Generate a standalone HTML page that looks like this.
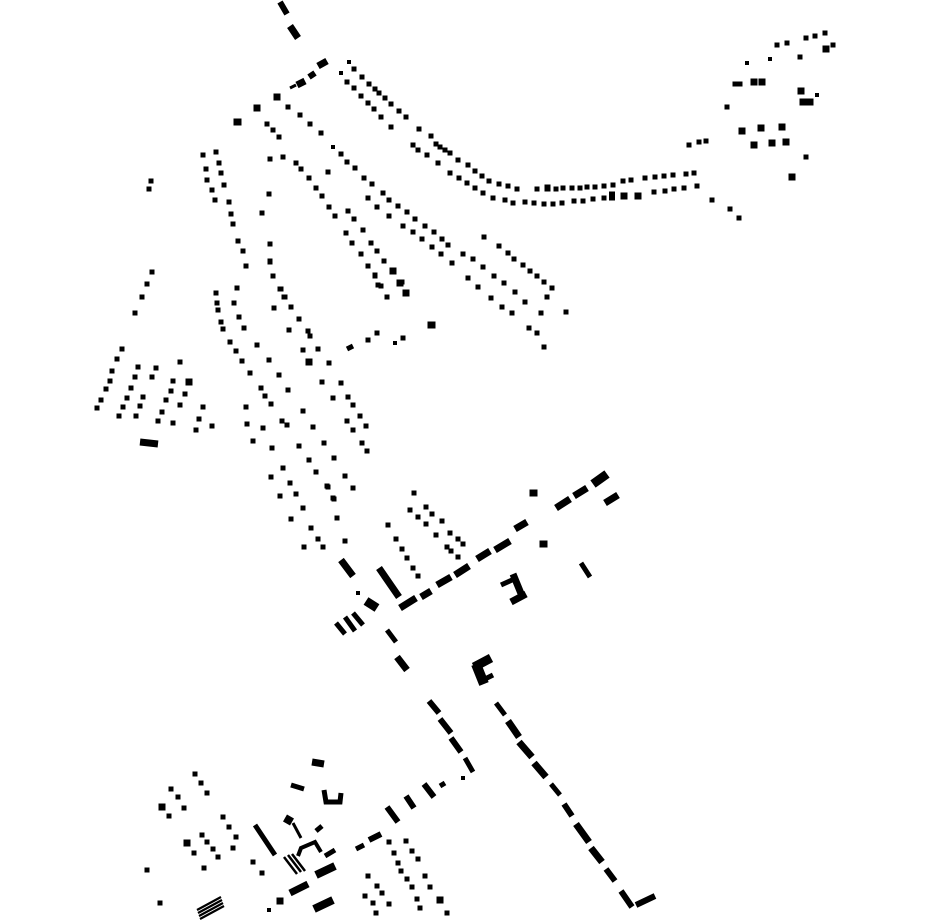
<!DOCTYPE html>
<html><head><meta charset="utf-8"><style>
html,body{margin:0;padding:0;background:#fff}
svg{display:block}
</style></head><body>
<svg width="930" height="924" viewBox="0 0 930 924" xmlns="http://www.w3.org/2000/svg">
<rect width="930" height="924" fill="#fff"/>
<g stroke="#000" fill="none" stroke-linecap="butt">
<!-- 5px squares -->
<path transform="translate(-2.5,0)" stroke-width="5" d="
M354 69h5M362 77h5M369 84h5M375 89h5M379 93h5M385 98h5M391 104h5M399 111h5M406 117h5
M347 82h5M354 88h5M361 96h5M368 103h5M374 109h5M381 117h5M391 127h5
M419 129h5M431 136h5M436 144h5M440 147h5M445 150h5M450 153h5M458 160h5M468 165h5M475 171h5M482 176h5M489 181h5M499 184h5M508 186h5M517 189h5M537 189h5M556 189h5M563 188h5M572 188h5M580 188h5M587 187h5M595 187h5M604 186h5M613 185h5M623 181h5M631 180h5M645 178h5M655 177h5M664 176h5M673 175h5M686 174h5M694 173h5
M413 145h5M418 150h5M427 155h5M438 163h5M450 173h5M459 178h5M467 183h5M475 188h5M483 193h5M493 198h5M505 200h5M513 203h5M525 202h5M534 203h5M544 204h5M553 204h5M562 203h5M574 201h5M583 201h5M593 199h5M604 198h5M654 192h5M665 191h5M674 189h5M684 188h5M697 186h5
M689 145h5M699 142h5M706 141h5
M777 45h5M787 43h5M806 38h5M815 36h5M825 33h5M833 45h5M800 57h5M735 84h5M740 84h5M727 107h5M712 200h5M730 209h5M739 218h5M806 157h5
M288 107h5M300 115h5M310 124h5M321 133h5M267 124h5M273 130h5M279 137h5
M283 157h5M270 159h5M296 163h5M301 169h5M309 178h5M316 188h5M322 196h5M329 207h5M335 216h5
M341 154h5M347 162h5M355 168h5M364 178h5M372 184h5M383 193h5M389 200h5M398 206h5M407 212h5M415 219h5M425 226h5M434 232h5M442 239h5M448 245h5M463 254h5M473 259h5
M368 198h5M377 207h5M389 216h5M403 226h5M413 232h5M422 239h5M432 247h5M441 254h5M452 263h5
M328 172h5M348 211h5M354 219h5M363 230h5M371 243h5M377 251h5M384 261h5
M346 233h5M352 243h5M361 254h5M368 266h5M375 276h5M381 286h5M387 297h5
M468 278h5M478 287h5
M484 237h5M499 246h5M508 253h5M514 259h5M523 265h5M530 271h5M537 276h5M544 282h5M552 288h5M547 297h5M566 312h5
M483 267h5M494 276h5M504 283h5M515 292h5M525 302h5M541 313h5
M491 298h5M502 307h5M512 313h5M529 328h5M537 333h5M544 347h5
M403 338h5M402 282h5M406 293h5M368 340h5M377 333h5
M203 155h5M216 152h5M219 163h5M206 169h5M221 173h5M207 180h5M224 185h5M212 190h5M215 200h5M229 202h5M231 214h5M233 224h5M238 241h5M243 251h5M246 266h5M237 288h5M216 293h5
M269 194h5M262 213h5M270 244h5M270 261h5M273 276h5M281 289h5M285 297h5
M151 181h5M149 189h5
M152 272h5M147 284h5M142 297h5M135 313h5
M122 349h5M117 359h5M112 371h5M110 381h5M106 389h5M101 400h5M97 408h5
M138 367h5M135 377h5M131 388h5M127 398h5M123 407h5M119 416h5
M156 368h5M152 377h5M143 397h5M140 406h5M136 416h5
M180 362h5M173 381h5M171 391h5M166 400h5M162 412h5M158 421h5
M185 394h5M180 405h5M173 423h5
M203 407h5M199 419h5M196 430h5M212 426h5
M217 303h5M218 310h5M221 322h5M223 329h5M230 342h5M236 351h5M242 361h5M250 373h5M261 388h5M265 396h5M271 404h5
M234 303h5M239 317h5M244 328h5M257 345h5M269 360h5M279 375h5M288 390h5
M270 262h5M280 289h5M284 297h5M291 307h5M299 319h5M308 331h5M310 336h5M318 349h5M329 363h5M341 383h5M348 397h5M353 405h5M360 416h5M366 426h5
M274 308h5M289 330h5M303 350h5M322 382h5M333 398h5M347 421h5M353 430h5M362 443h5M367 451h5
M368 266h5M375 275h5M378 285h5
M246 407h5M247 424h5M253 441h5M263 428h5M272 448h5
M282 421h5M287 425h5M303 411h5M313 427h5M299 446h5M324 443h5M309 460h5M316 472h5M334 458h5M345 476h5M328 487h5M353 488h5
M283 468h5M271 477h5M290 483h5M296 494h5M280 496h5M303 508h5M291 519h5M334 499h5M337 518h5M311 528h5M318 539h5M323 547h5M304 547h5M345 541h5
M327 486h5M333 498h5
M414 493h5M410 510h5M418 517h5M426 507h5M432 514h5M426 524h5M442 521h5M436 535h5M450 533h5M447 547h5M451 551h5M458 539h5M463 544h5M458 557h5
M388 525h5M396 539h5M402 549h5M407 558h5M413 568h5M418 576h5
M195 774h5M201 783h5M207 793h5M171 789h5M178 797h5M184 808h5M169 816h5
M223 817h5M229 827h5M236 837h5M233 848h5
M194 853h5M202 835h5M207 842h5M213 849h5M218 857h5M204 868h5
M147 870h5M160 903h5M253 862h5M262 873h5
M389 842h5M394 853h5M398 863h5M401 871h5M407 879h5M412 887h5M417 899h5M420 908h5
M406 841h5M412 851h5M418 859h5M425 876h5M430 887h5M447 913h5
M368 876h5M377 886h5M382 893h5M365 896h5M373 903h5M389 904h5M376 913h5
"/>
<!-- 4px small -->
<path transform="translate(-2,0)" stroke-width="4" d="
M349 62h4M341 73h4M333 147h4M747 63h4M770 59h4M817 95h4M358 593h4M269 910h4M463 778h4M395 343h4"/>
<!-- 7px squares -->
<path transform="translate(-3.5,0)" stroke-width="7" d="
M548 188h6M624 196h7M638 196h7M826 49h7M754 82h7M762 82h7M801 91h7M803 102h7M810 102h7M742 131h7M761 128h7M782 127h7M754 145h7M772 143h7M786 142h7M792 177h7
M237 122h8M277 97h7M257 108h7M393 271h7M400 283h7M406 293h7M431 325h8M189 382h7M309 362h7
M533 493h8M543 544h8M162 807h7M187 843h7M280 901h7M440 900h7"/>
<path stroke-width="9" d="M609 196h6"/>
<!-- dashes -->
<path stroke-width="6" d="M280 2L287 14M322 63l0 0M309 77L315 73M237 288l0 0"/>
<path stroke-width="7" d="M290 26L298 38M318 66L327 61M297 85L305 81M341 560L353 576M379 568L399 597M400 608L416 598M421 597L431 591M437 585L451 577M455 575L469 566M477 559L490 551M495 550L510 541M515 529L527 522M556 508L570 499M574 496L587 488M605 503L618 495M397 657L407 670M508 721L519 737M519 742L532 757M534 763L546 777M576 824L589 842M591 848L602 862M312 762L324 764M290 893L308 884M140 442L158 444"/>
<path stroke-width="9" d="M593 484L607 474M366 601L377 608"/>
<path stroke-width="3" d="M290 88L296 85"/>
<path stroke-width="5" d="M581 563L590 577M387 630L396 642M336 623L345 634M345 617L355 631M353 613L363 625M347 349L353 346M496 703L505 715M551 784L560 795M465 758L473 772M255 825L275 855M291 785L304 789M316 831L322 826M325 856L335 850M356 849L364 845M440 786L445 783"/>
<path stroke-width="6" d="M564 804L572 816M606 869L615 881M621 891L632 907M636 905L655 896M429 701L439 713M440 719L451 733M451 738L461 752M424 784L434 797M406 796L414 808M369 840L381 834M387 807L398 822"/>
<path stroke-width="8" d="M316 875L335 866M314 909L333 900M285 818L292 822"/>
<path stroke-width="3" d="M293 823L301 838"/>
<path stroke-width="5" d="M324 790L326 802L340 802L341 793"/>
<path stroke-width="4" d="M298 856L301 848L315 842L321 852"/>
<path stroke-width="2.5" d="M284 857L297 874M288 855L301 872M292 854L305 871"/>
<path stroke-width="2.2" d="M197 910L221 897M198 913L222 900M199 916L223 903M200 919L224 906"/>
<!-- U shape -->
<path stroke-width="7" d="M513 574L522 596M511 602L526 594"/>
<path stroke-width="5" d="M501 585L512 580"/>
<!-- C building -->
<path stroke-width="9" d="M474 667L491 658"/>
<path stroke-width="10" d="M476 664L484 684"/>
<path stroke-width="5" d="M483 680L493 675"/>
</g>
</svg>
</body></html>
